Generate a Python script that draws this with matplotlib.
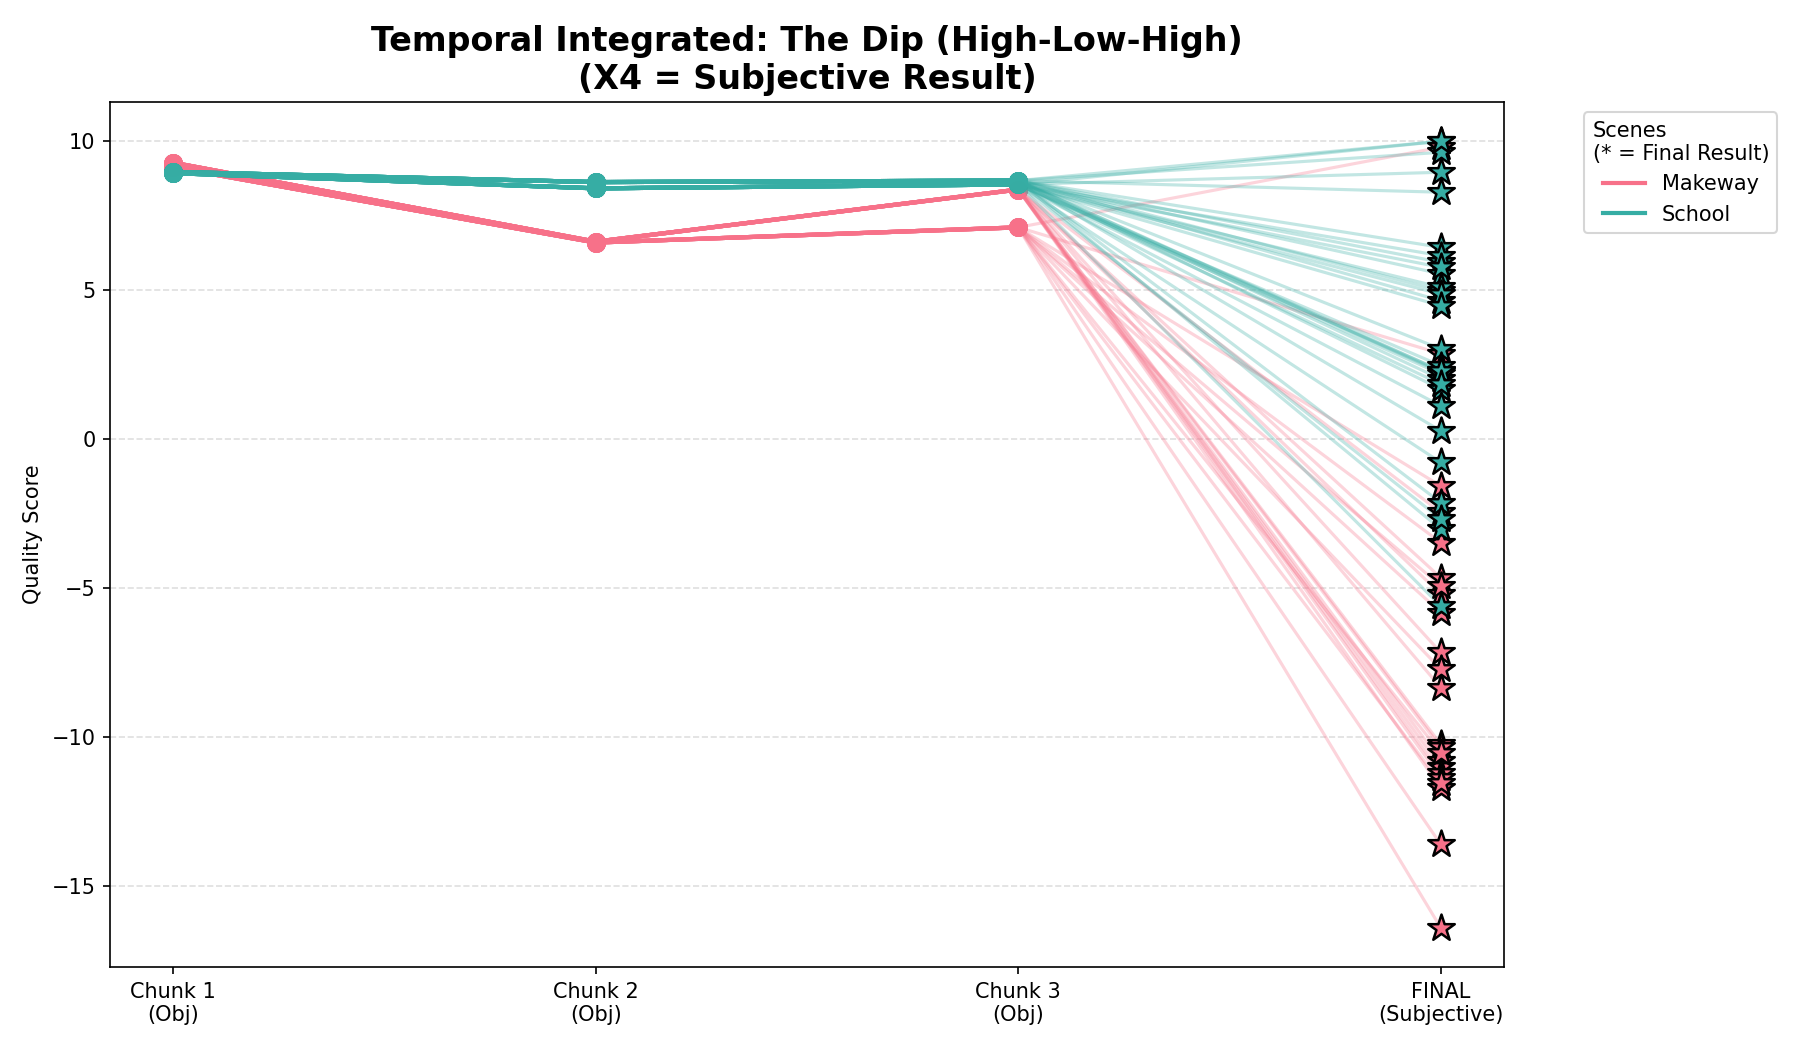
import matplotlib
matplotlib.use("Agg")
import matplotlib.pyplot as plt
from matplotlib.lines import Line2D
import seaborn as sns

# ---- data ----
stage_labels = ["Chunk 1\n(Obj)", "Chunk 2\n(Obj)", "Chunk 3\n(Obj)", "FINAL\n(Subjective)"]
scenes = ["Makeway", "School"]

# Makeway samples
makeway_c1 = [9.28] * 12 + [9.13] * 11
makeway_c2 = [6.63] * 12 + [6.60] * 11
makeway_c3 = [8.38] * 12 + [7.11] * 11
makeway_final = [-2.46, -4.65, -5.20, -7.16, -8.34, -10.24, -10.35, -10.80,
                 -11.00, -11.20, -11.36, -11.70,
                 9.80, 2.87, -1.57, -3.47, -4.92, -5.82, -7.72, -10.52,
                 -11.53, -13.60, -16.40]

# School samples
school_c1 = [8.97] * 16 + [8.93] * 15
school_c2 = [8.63] * 16 + [8.42] * 15
school_c3 = [8.68] * 16 + [8.55] * 15
school_final = [10.00, 9.63, 8.29, 6.44, 5.94, 5.55, 4.98, 4.65, 3.03, 2.30,
                2.25, 2.02, 1.68, 0.28, -2.13, -3.02,
                10.00, 8.96, 6.16, 5.77, 5.10, 4.87, 4.48, 2.47, 2.19, 2.30,
                1.85, 1.12, -0.78, -2.68, -5.60]

scene_data = {
    "Makeway": (makeway_c1, makeway_c2, makeway_c3, makeway_final),
    "School": (school_c1, school_c2, school_c3, school_final),
}

palette = sns.color_palette("husl", 2)
colors = dict(zip(scenes, palette))

fig = plt.figure(figsize=(12, 7), dpi=150)
ax = fig.add_axes([0.0611, 0.079, 0.7745, 0.8239])

xs = list(range(len(stage_labels)))
for scene in scenes:
    c1, c2, c3, fin = scene_data[scene]
    col = colors[scene]
    for a, b, c, f in zip(c1, c2, c3, fin):
        ax.plot(xs[:3], [a, b, c], color=col, lw=2, alpha=0.5,
                marker="o", markersize=8)
        ax.plot(xs[2:], [c, f], color=col, lw=1.5, alpha=0.3)
    for f in fin:
        ax.scatter([xs[3]], [f], marker="*", s=180, color=col,
                   edgecolor="black", linewidth=1.2, zorder=5)

ax.set_xticks(xs)
ax.set_xticklabels(stage_labels)
ax.set_ylabel("Quality Score")
ax.grid(axis="y", linestyle="--", alpha=0.4)
ax.set_title("Temporal Integrated: The Dip (High-Low-High)\n(X4 = Subjective Result)",
             fontsize=16, fontweight="bold")

handles = [Line2D([0], [0], color=colors[s], lw=2) for s in scenes]
ax.legend(handles, scenes, title="Scenes\n(* = Final Result)",
          bbox_to_anchor=(1.05, 1), loc="upper left")

fig.savefig("out.png", dpi=150)
